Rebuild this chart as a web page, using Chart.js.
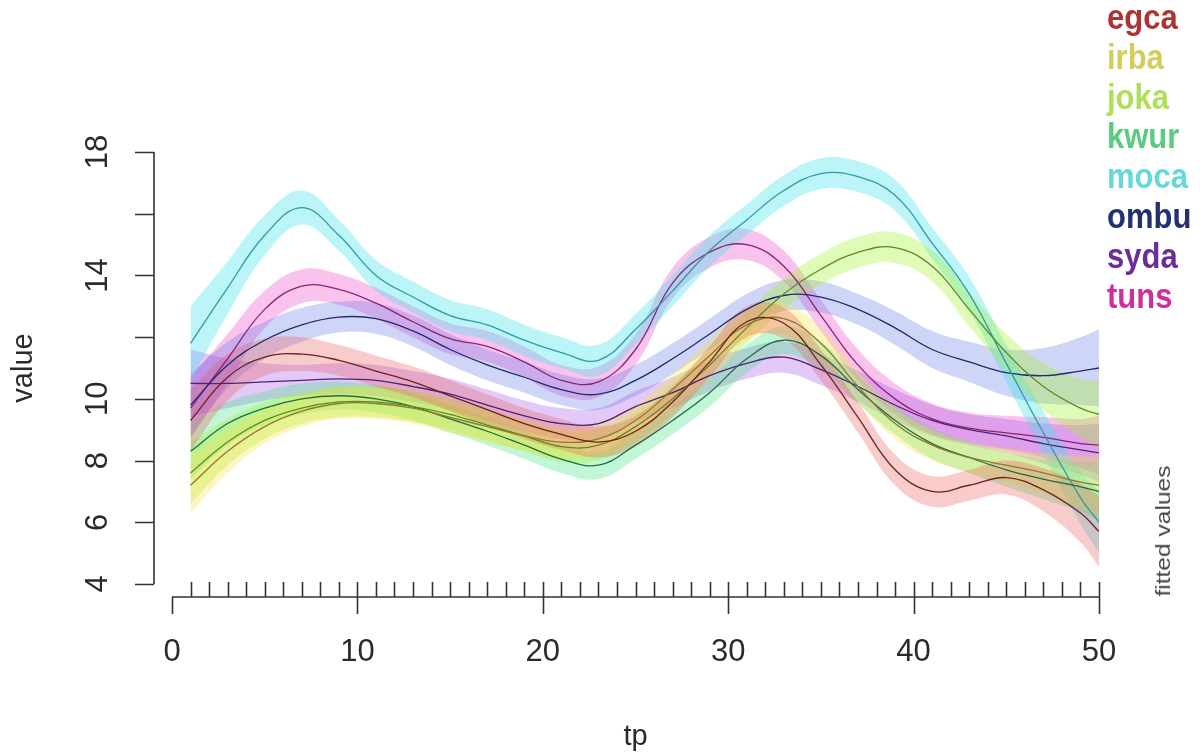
<!DOCTYPE html>
<html>
<head>
<meta charset="utf-8">
<script src="https://cdn.jsdelivr.net/npm/chart.js@4.4.1/dist/chart.umd.min.js"></script>
<style>
  html, body { margin: 0; padding: 0; background: #fff; }
  #wrap { position: relative; width: 1201px; height: 756px; overflow: hidden; }
  #c { position: absolute; left: 0; top: 0; }
  #legend { position: absolute; left: 1107px; top: -3px; font: bold 31px "Liberation Sans", Arial, sans-serif; }
  #legend div { height: 39.8px; line-height: 40px; transform: scaleY(1.15); transform-origin: 0 50%; white-space: nowrap; }
  #fv { position: absolute; left: 1087px; top: 520px; width: 150px; height: 22px; line-height: 22px; text-align: center;
        font: 21px "Liberation Sans", Arial, sans-serif; color: #444; transform: rotate(-90deg) scale(1.17, 1); }
</style>
</head>
<body>
<div id="wrap">
  <canvas id="c" width="1201" height="756"></canvas>
  <div id="legend"></div>
  <div id="fv">fitted values</div>
</div>
<script>
// ---- data ----
var tp = [1, 3, 5, 7, 9, 11, 13, 15, 17, 19, 21, 23, 25, 27, 29, 31, 33, 35, 37, 39, 41, 43, 45, 47, 49, 50];

var egca = [9.3, 10.7, 11.35, 11.45, 11.25, 10.9, 10.55, 10.1, 9.65, 9.2, 8.85, 8.6, 8.95, 9.9, 11.2, 12.5, 12.45, 11.1, 9.4, 7.7, 7.0, 7.2, 7.45, 7.05, 6.3, 5.7];
var irba = [7.2, 8.3, 9.1, 9.6, 9.85, 9.85, 9.7, 9.4, 9.1, 8.8, 8.6, 8.7, 9.3, 10.3, 11.4, 12.4, 12.6, 11.8, 10.4, 9.2, 8.5, 8.1, 7.85, 7.6, 7.3, 7.2];
var joka = [7.6, 8.6, 9.3, 9.7, 9.9, 9.9, 9.75, 9.5, 9.15, 8.8, 8.45, 8.5, 9.1, 10.0, 11.1, 12.3, 13.4, 14.2, 14.75, 14.9, 14.3, 12.9, 11.5, 10.4, 9.7, 9.5];
var kwur = [8.3, 9.2, 9.7, 10.0, 10.1, 10.0, 9.75, 9.35, 8.95, 8.5, 8.05, 7.85, 8.5, 9.3, 10.2, 11.3, 11.9, 11.4, 10.3, 9.3, 8.55, 8.1, 7.7, 7.4, 7.15, 7.0];
var moca = [11.8, 13.6, 15.3, 16.2, 15.3, 14.0, 13.3, 12.7, 12.4, 11.9, 11.5, 11.25, 12.25, 13.5, 14.8, 15.8, 16.75, 17.3, 17.2, 16.6, 15.05, 13.4, 11.15, 8.9, 6.8, 6.0];
var ombu = [9.8, 11.1, 11.9, 12.4, 12.65, 12.6, 12.2, 11.6, 11.1, 10.7, 10.3, 10.15, 10.6, 11.3, 12.1, 12.9, 13.35, 13.3, 12.9, 12.3, 11.6, 11.2, 10.85, 10.75, 10.9, 11.0];
var syda = [10.5, 10.5, 10.55, 10.6, 10.65, 10.6, 10.4, 10.15, 9.8, 9.45, 9.2, 9.2, 9.75, 10.2, 10.75, 11.15, 11.35, 10.95, 10.4, 9.8, 9.3, 9.0, 8.8, 8.55, 8.35, 8.25];
var tuns = [9.7, 11.3, 12.9, 13.65, 13.55, 13.1, 12.5, 11.95, 11.7, 11.2, 10.6, 10.55, 11.6, 13.75, 14.75, 15.0, 14.3, 12.7, 11.1, 10.0, 9.35, 9.05, 8.9, 8.75, 8.55, 8.5];

// half width of the confidence band at each tp
var egcaCI = [1.0, 0.75, 0.6, 0.55, 0.5, 0.5, 0.5, 0.5, 0.5, 0.5, 0.5, 0.5, 0.5, 0.5, 0.5, 0.5, 0.5, 0.5, 0.5, 0.5, 0.5, 0.5, 0.55, 0.7, 0.95, 1.15];
var irbaCI = [0.9, 0.7, 0.55, 0.5, 0.5, 0.5, 0.5, 0.5, 0.5, 0.5, 0.5, 0.5, 0.5, 0.5, 0.5, 0.5, 0.5, 0.5, 0.5, 0.5, 0.5, 0.5, 0.55, 0.65, 0.85, 1.0];
var jokaCI = [1.0, 0.75, 0.6, 0.5, 0.5, 0.5, 0.5, 0.5, 0.5, 0.5, 0.5, 0.5, 0.5, 0.5, 0.5, 0.5, 0.5, 0.5, 0.5, 0.5, 0.5, 0.55, 0.6, 0.75, 0.95, 1.1];
var kwurCI = [0.9, 0.7, 0.55, 0.5, 0.45, 0.45, 0.45, 0.45, 0.45, 0.45, 0.45, 0.45, 0.45, 0.45, 0.45, 0.45, 0.45, 0.45, 0.45, 0.45, 0.5, 0.5, 0.55, 0.65, 0.8, 0.95];
var mocaCI = [1.2, 0.85, 0.65, 0.55, 0.5, 0.5, 0.5, 0.5, 0.5, 0.5, 0.5, 0.5, 0.5, 0.5, 0.5, 0.5, 0.5, 0.5, 0.5, 0.5, 0.5, 0.55, 0.6, 0.7, 0.85, 1.0];
var ombuCI = [1.0, 0.75, 0.6, 0.55, 0.5, 0.5, 0.5, 0.5, 0.5, 0.5, 0.5, 0.5, 0.5, 0.5, 0.5, 0.5, 0.5, 0.5, 0.5, 0.55, 0.6, 0.65, 0.75, 0.9, 1.1, 1.25];
var sydaCI = [1.1, 0.8, 0.6, 0.5, 0.5, 0.5, 0.5, 0.5, 0.5, 0.5, 0.5, 0.5, 0.5, 0.5, 0.5, 0.5, 0.5, 0.5, 0.5, 0.5, 0.5, 0.5, 0.55, 0.65, 0.8, 0.95];
var tunsCI = [1.0, 0.8, 0.6, 0.55, 0.5, 0.5, 0.5, 0.5, 0.5, 0.5, 0.5, 0.5, 0.5, 0.5, 0.5, 0.5, 0.5, 0.5, 0.5, 0.5, 0.5, 0.5, 0.55, 0.65, 0.8, 0.95];

var names = ["egca", "irba", "joka", "kwur", "moca", "ombu", "syda", "tuns"];
var fits = [egca, irba, joka, kwur, moca, ombu, syda, tuns];
var cis = [egcaCI, irbaCI, jokaCI, kwurCI, mocaCI, ombuCI, sydaCI, tunsCI];

var xTicks = [0, 10, 20, 30, 40, 50];
var yTicks = [4, 6, 8, 10, 12, 14, 16, 18];
var yLabels = ["4", "6", "8", "10", "", "14", "", "18"];

// ---- colours ----
var bandCol = ["rgba(235,85,85,0.30)", "rgba(250,225,70,0.33)", "rgba(165,240,50,0.35)", "rgba(50,230,120,0.30)",
               "rgba(60,225,235,0.35)", "rgba(95,115,230,0.30)", "rgba(160,75,230,0.30)", "rgba(240,55,200,0.30)"];
var lineCol = ["#6a2222", "#8a7a34", "#5f8a28", "#236a45", "#2f9aa6", "#1f2c6e", "#4c2470", "#8c2278"];
var textCol = ["#ad3434", "#d6cc5c", "#b0de58", "#5acc80", "#66d8d8", "#22306e", "#6a2e98", "#cc30a0"];

var FONT = "'Liberation Sans', Arial, sans-serif";

// legend as coloured words
var leg = document.getElementById("legend");
names.forEach(function (n, i) {
  var d = document.createElement("div");
  d.textContent = n;
  d.style.color = textCol[i];
  leg.appendChild(d);
});

var datasets = [];
names.forEach(function (n, i) {
  var m = fits[i], ci = cis[i];
  datasets.push({
    label: n + " lower",
    data: tp.map(function (x, j) { return { x: x, y: m[j] - ci[j] }; }),
    borderWidth: 0, pointRadius: 0, fill: false, tension: 0.4, order: 1
  });
  datasets.push({
    label: n + " upper",
    data: tp.map(function (x, j) { return { x: x, y: m[j] + ci[j] }; }),
    borderWidth: 0, pointRadius: 0, fill: "-1", backgroundColor: bandCol[i], tension: 0.4, order: 1
  });
  datasets.push({
    label: n,
    data: tp.map(function (x, j) { return { x: x, y: m[j] }; }),
    borderColor: lineCol[i], borderWidth: 1.3, pointRadius: 0, fill: false, tension: 0.4, order: 0
  });
});

// R style axes: detached lines, minor ticks up, major ticks down
var rAxes = {
  id: "rAxes",
  afterDraw: function (chart) {
    var ctx = chart.ctx, sx = chart.scales.x, sy = chart.scales.y, area = chart.chartArea;
    var ax = area.left - 18, ay = area.bottom + 13;
    ctx.save();
    ctx.strokeStyle = "#333";
    ctx.lineWidth = 1.6;
    ctx.beginPath();
    ctx.moveTo(ax, sy.getPixelForValue(yTicks[0]));
    ctx.lineTo(ax, sy.getPixelForValue(yTicks[yTicks.length - 1]));
    yTicks.forEach(function (v) {
      var p = Math.round(sy.getPixelForValue(v)) + 0.5;
      ctx.moveTo(ax, p); ctx.lineTo(ax - 19, p);
    });
    ctx.moveTo(sx.getPixelForValue(xTicks[0]), ay);
    ctx.lineTo(sx.getPixelForValue(xTicks[xTicks.length - 1]), ay);
    xTicks.forEach(function (v) {
      var p = Math.round(sx.getPixelForValue(v)) + 0.5;
      ctx.moveTo(p, ay); ctx.lineTo(p, ay + 17);
    });
    for (var k = 1; k <= 50; k++) {
      var q = Math.round(sx.getPixelForValue(k)) + 0.5;
      ctx.moveTo(q, ay); ctx.lineTo(q, ay - 15);
    }
    ctx.stroke();
    ctx.restore();
  }
};

new Chart(document.getElementById("c"), {
  type: "line",
  data: { datasets: datasets },
  options: {
    responsive: false,
    animation: false,
    layout: { padding: { left: 0, right: 102, top: 152, bottom: 0 } },
    plugins: { legend: { display: false }, tooltip: { enabled: false } },
    scales: {
      x: {
        type: "linear", min: 0, max: 50,
        afterBuildTicks: function (s) { s.ticks = xTicks.map(function (v) { return { value: v }; }); },
        afterFit: function (s) { s.height = 172; },
        ticks: { autoSkip: false, maxRotation: 0, padding: 50, color: "#2a2a2a", font: { family: FONT, size: 31 } },
        grid: { display: false, drawTicks: false },
        border: { display: false },
        title: { display: true, text: "tp", color: "#2a2a2a", font: { family: FONT, size: 29 }, padding: { top: 0, bottom: 2 } }
      },
      y: {
        type: "linear", min: 4, max: 18,
        afterBuildTicks: function (s) { s.ticks = yTicks.map(function (v) { return { value: v }; }); },
        afterFit: function (s) { s.width = 172; },
        ticks: {
          autoSkip: false, minRotation: 90, maxRotation: 90, crossAlign: "center", padding: 56,
          color: "#2a2a2a", font: { family: FONT, size: 31 },
          callback: function (v) { return yLabels[yTicks.indexOf(v)]; }
        },
        grid: { display: false, drawTicks: false },
        border: { display: false },
        title: { display: true, text: "value", color: "#2a2a2a", font: { family: FONT, size: 29 }, padding: { top: 7, bottom: 0 } }
      }
    }
  },
  plugins: [rAxes]
});
</script>
</body>
</html>
